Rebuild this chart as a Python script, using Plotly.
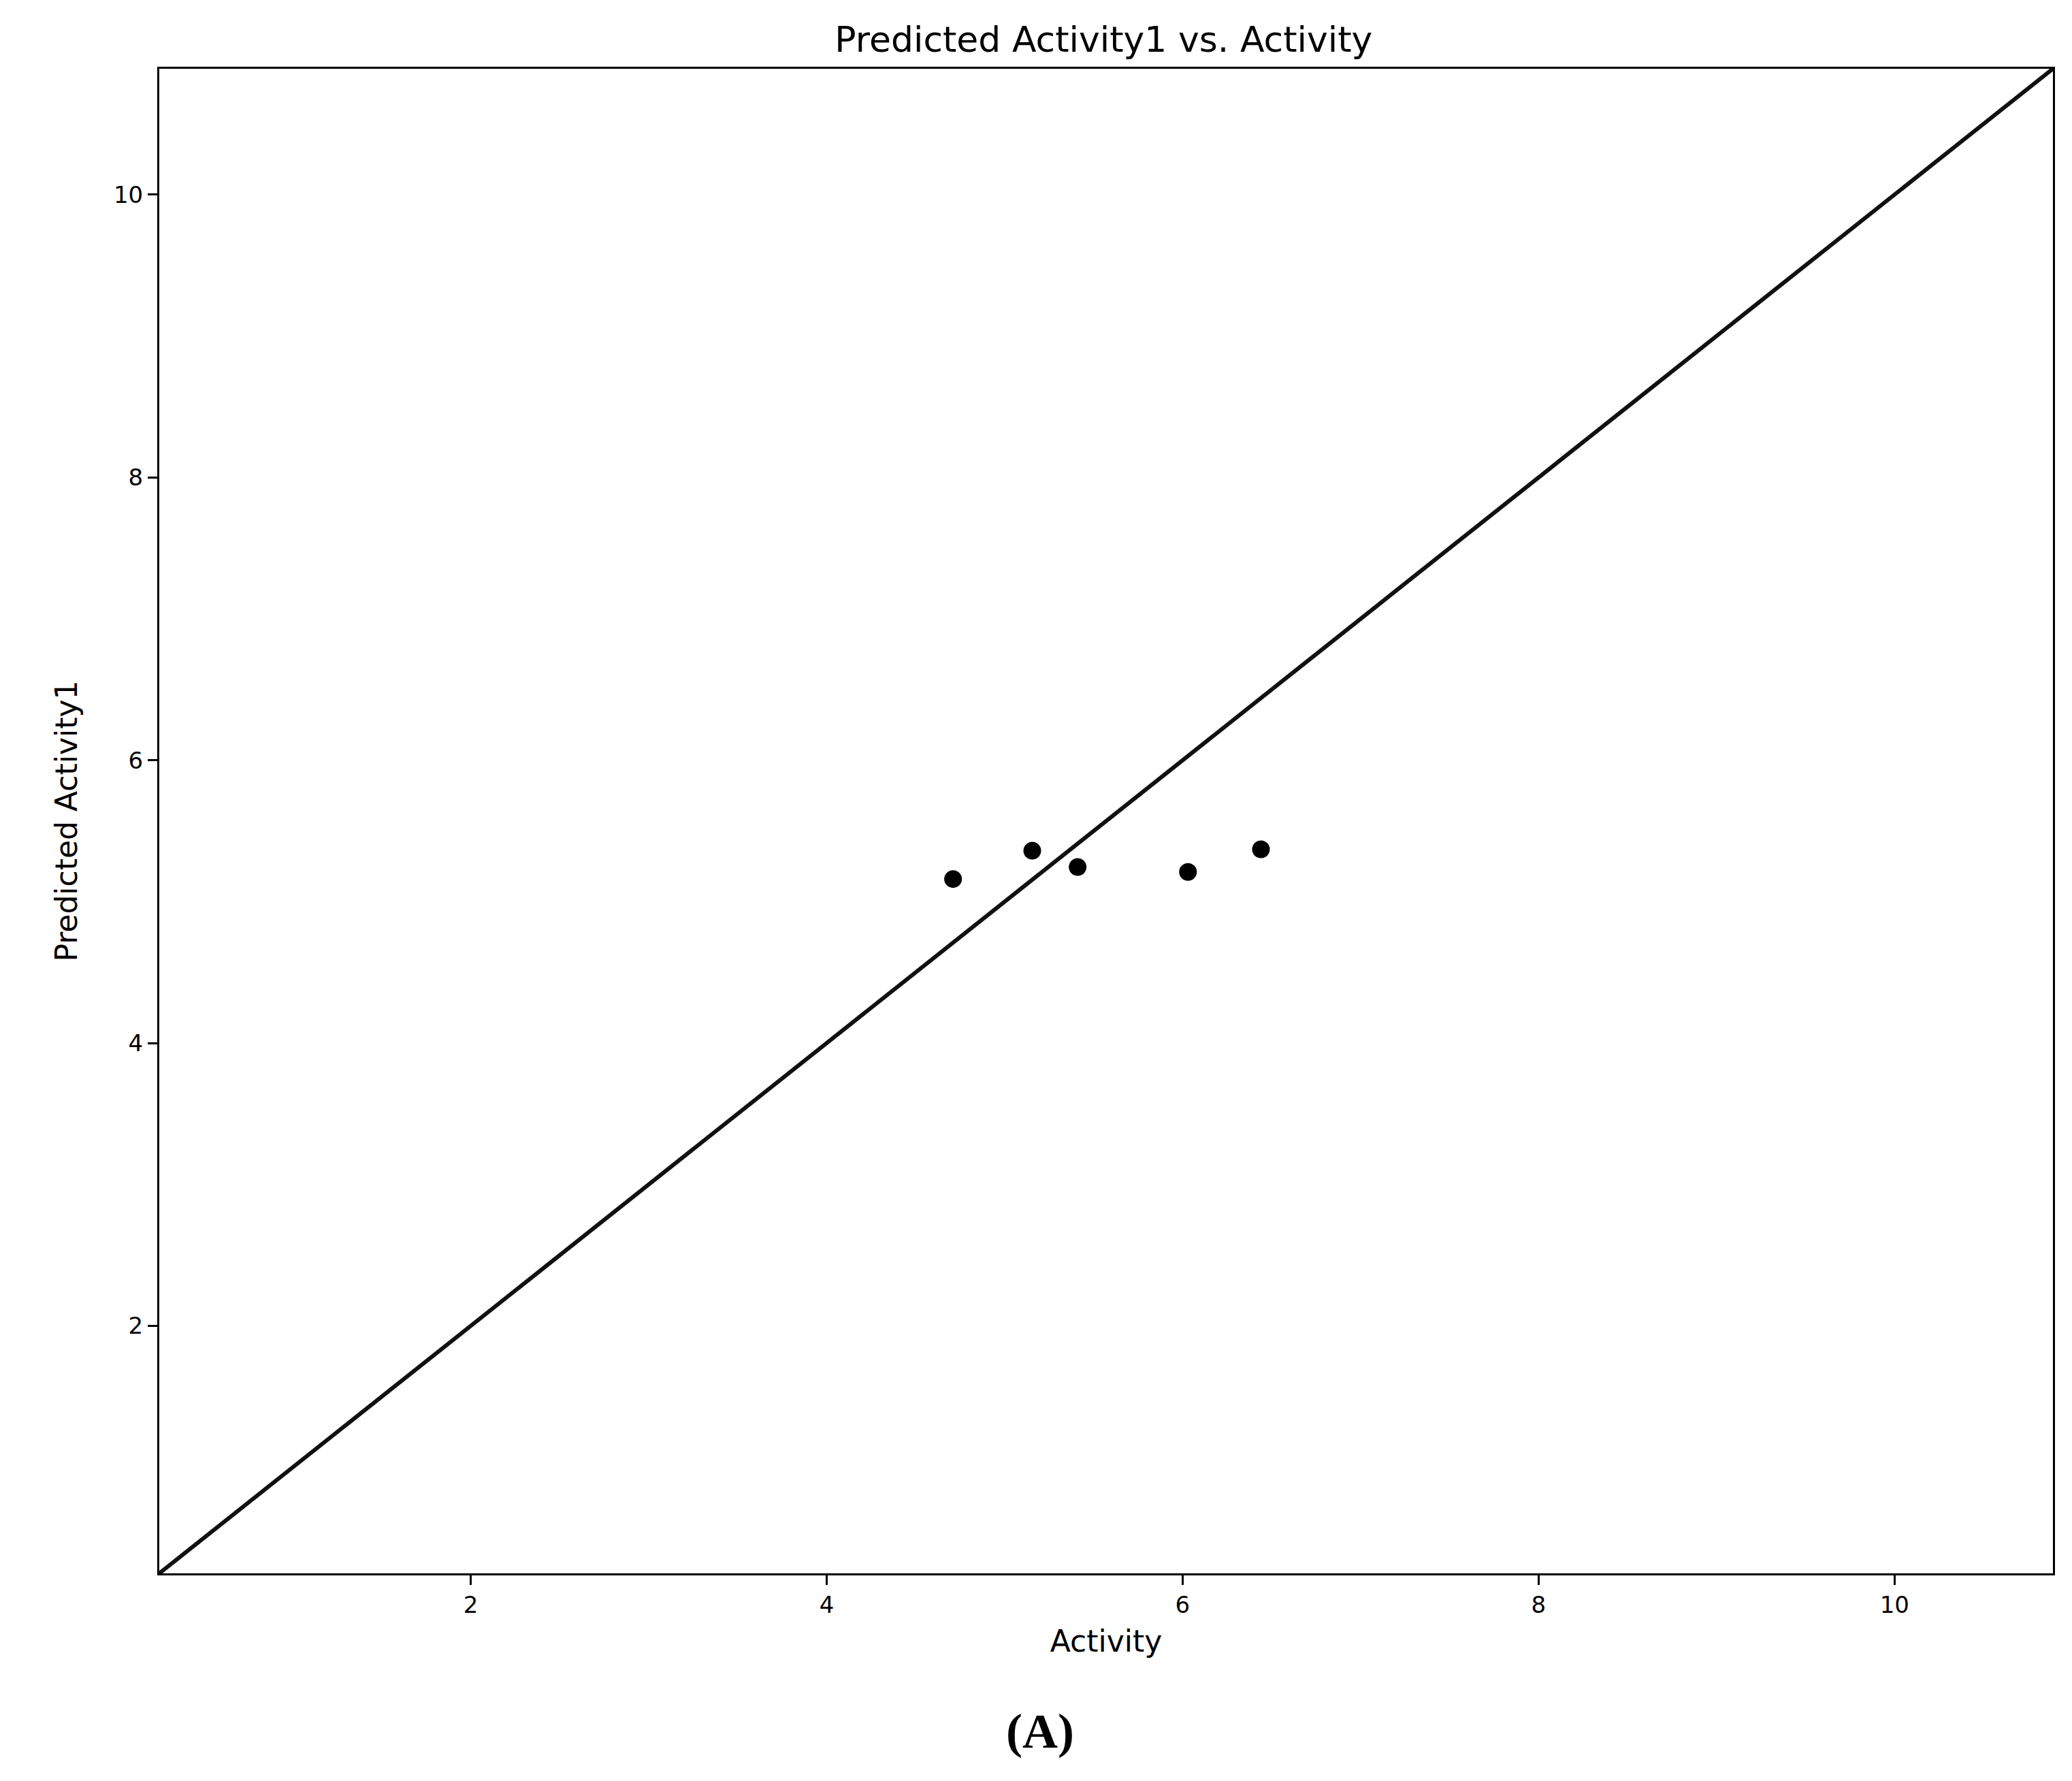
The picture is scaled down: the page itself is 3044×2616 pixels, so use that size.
import plotly.graph_objects as go

# values
activity = [4.71, 5.155, 5.41, 6.03, 6.44]
predicted = [5.16, 5.36, 5.245, 5.21, 5.37]
identity = [0.25, 10.89]
tick_vals = [2, 4, 6, 8, 10]

fig = go.Figure()
fig.add_trace(go.Scatter(x=identity, y=identity, mode='lines',
                         line=dict(color='#111111', width=6), showlegend=False))
fig.add_trace(go.Scatter(x=activity, y=predicted, mode='markers',
                         marker=dict(color='black', size=26, symbol='circle'),
                         showlegend=False))

axis_common = dict(range=[0.25, 10.89], tickvals=tick_vals, showgrid=False,
                   zeroline=False, showline=True, linecolor='black', linewidth=3,
                   mirror=True, ticks='outside', ticklen=14, tickwidth=3,
                   tickcolor='black', tickfont=dict(size=34, color='black'))

fig.update_xaxes(title=dict(text='Activity', font=dict(size=44), standoff=20), **axis_common)
fig.update_yaxes(title=dict(text='Predicted Activity1', font=dict(size=44), standoff=40), **axis_common)

fig.update_layout(
    width=3044, height=2616,
    margin=dict(l=226, r=36, t=93, b=313),
    plot_bgcolor='white', paper_bgcolor='white',
    font=dict(family='DejaVu Sans', color='black'),
    title=dict(text='Predicted Activity1 vs. Activity', x=0.53, xanchor='center',
               y=0.988, yanchor='top', font=dict(size=52)),
    annotations=[dict(text='<b>(A)</b>', xref='paper', yref='paper', x=0.465, y=-0.105,
                      xanchor='center', yanchor='middle', showarrow=False,
                      font=dict(family='Liberation Serif', size=72, color='black'))],
)

fig.write_html("out.html")
